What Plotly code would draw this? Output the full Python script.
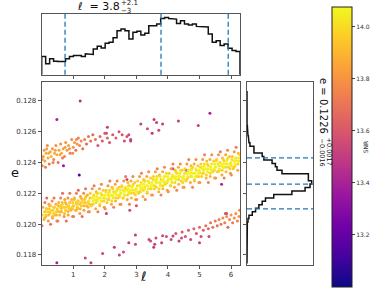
import numpy as np
import plotly.graph_objects as go

# ---------------- data ----------------
# main band, outer samples (columns)
band_l = [
 [0.01,0.07,0.02,0.09,0.04,0.10],[0.21,0.13,0.19,0.15,0.23,0.16],[0.28,0.34,0.26,0.32,0.25,0.33],[0.48,0.42,0.46,0.38,0.45,0.39],
 [0.51,0.57,0.50,0.59,0.54,0.60],[0.71,0.63,0.69,0.65,0.73,0.66],[0.78,0.84,0.76,0.82,0.75,0.83],[0.98,0.92,0.96,0.88,0.95,0.89],
 [1.01,1.07,1.00,1.09,1.04,1.10],[1.21,1.13,1.19,1.15,1.23,1.16],[1.28,1.34,1.26,1.32,1.25,1.33],[1.48,1.42,1.46,1.38,1.45,1.39],
 [1.51,1.57,1.50,1.59,1.54,1.60],[1.71,1.63,1.69,1.65,1.73,1.66],[1.78,1.84,1.76,1.82,1.75,1.83],[1.98,1.92,1.96,1.88,1.95,1.89],
 [2.01,2.07,2.00,2.09,2.04,2.10],[2.21,2.13,2.19,2.15,2.23,2.16],[2.28,2.34,2.26,2.32,2.25,2.33],[2.48,2.42,2.46,2.38,2.45,2.39],
 [2.51,2.57,2.50,2.59,2.54,2.60],[2.71,2.63,2.69,2.65,2.73,2.66],[2.78,2.84,2.76,2.82,2.75,2.83],[2.98,2.92,2.96,2.88,2.95,2.89],
 [3.01,3.07,3.00,3.09,3.04,3.10],[3.21,3.13,3.19,3.15,3.23,3.16],[3.28,3.34,3.26,3.32,3.25,3.33],[3.48,3.42,3.46,3.38,3.45,3.39],
 [3.51,3.57,3.50,3.59,3.54,3.60],[3.71,3.63,3.69,3.65,3.73,3.66],[3.78,3.84,3.76,3.82,3.75,3.83],[3.98,3.92,3.96,3.88,3.95,3.89],
 [4.01,4.07,4.00,4.09,4.04,4.10],[4.21,4.13,4.19,4.15,4.23,4.16],[4.28,4.34,4.26,4.32,4.25,4.33],[4.48,4.42,4.46,4.38,4.45,4.39],
 [4.51,4.57,4.50,4.59,4.54,4.60],[4.71,4.63,4.69,4.65,4.73,4.66],[4.78,4.84,4.76,4.82,4.75,4.83],[4.98,4.92,4.96,4.88,4.95,4.89],
 [5.01,5.07,5.00,5.09,5.04,5.10],[5.21,5.13,5.19,5.15,5.23,5.16],[5.28,5.34,5.26,5.32,5.25,5.33],[5.48,5.42,5.46,5.38,5.45,5.39],
 [5.51,5.57,5.50,5.59,5.54,5.60],[5.71,5.63,5.69,5.65,5.73,5.66],[5.78,5.84,5.76,5.82,5.75,5.83],[5.98,5.92,5.96,5.88,5.95,5.89],
 [6.01,6.07,6.00,6.09,6.04,6.10],[6.21,6.13,6.19,6.15,6.23,6.16],
]
band_e = [
 [0.1199,0.1203,0.1206,0.1208,0.1211,0.1214],[0.1202,0.1205,0.1208,0.1210,0.1213,0.1217],[0.1200,0.1204,0.1207,0.1209,0.1212,0.1215],[0.1202,0.1206,0.1208,0.1211,0.1213,0.1217],
 [0.1202,0.1206,0.1209,0.1211,0.1214,0.1217],[0.1205,0.1208,0.1211,0.1213,0.1216,0.1220],[0.1202,0.1206,0.1209,0.1211,0.1214,0.1217],[0.1205,0.1209,0.1211,0.1214,0.1216,0.1220],
 [0.1205,0.1209,0.1212,0.1214,0.1217,0.1220],[0.1207,0.1210,0.1213,0.1215,0.1218,0.1222],[0.1205,0.1209,0.1212,0.1214,0.1217,0.1220],[0.1208,0.1212,0.1214,0.1217,0.1219,0.1223],
 [0.1208,0.1212,0.1215,0.1217,0.1220,0.1223],[0.1210,0.1213,0.1216,0.1218,0.1221,0.1225],[0.1208,0.1212,0.1215,0.1217,0.1220,0.1223],[0.1211,0.1215,0.1217,0.1220,0.1222,0.1226],
 [0.1210,0.1214,0.1217,0.1219,0.1222,0.1225],[0.1213,0.1216,0.1219,0.1221,0.1224,0.1228],[0.1211,0.1215,0.1218,0.1220,0.1223,0.1226],[0.1213,0.1217,0.1219,0.1222,0.1224,0.1228],
 [0.1213,0.1217,0.1220,0.1222,0.1225,0.1228],[0.1216,0.1219,0.1222,0.1224,0.1227,0.1231],[0.1213,0.1217,0.1220,0.1222,0.1225,0.1228],[0.1216,0.1220,0.1222,0.1225,0.1227,0.1231],
 [0.1216,0.1220,0.1223,0.1225,0.1228,0.1231],[0.1218,0.1221,0.1224,0.1226,0.1229,0.1233],[0.1216,0.1220,0.1223,0.1225,0.1228,0.1231],[0.1219,0.1223,0.1225,0.1228,0.1230,0.1234],
 [0.1219,0.1223,0.1226,0.1228,0.1231,0.1234],[0.1221,0.1224,0.1227,0.1229,0.1232,0.1236],[0.1219,0.1223,0.1226,0.1228,0.1231,0.1234],[0.1222,0.1226,0.1228,0.1231,0.1233,0.1237],
 [0.1221,0.1225,0.1228,0.1230,0.1233,0.1236],[0.1224,0.1227,0.1230,0.1232,0.1235,0.1239],[0.1222,0.1226,0.1229,0.1231,0.1234,0.1237],[0.1224,0.1228,0.1230,0.1233,0.1235,0.1239],
 [0.1224,0.1228,0.1231,0.1233,0.1236,0.1239],[0.1227,0.1230,0.1233,0.1235,0.1238,0.1242],[0.1224,0.1228,0.1231,0.1233,0.1236,0.1239],[0.1227,0.1231,0.1233,0.1236,0.1238,0.1242],
 [0.1227,0.1231,0.1234,0.1236,0.1239,0.1242],[0.1230,0.1233,0.1236,0.1238,0.1241,0.1245],[0.1227,0.1231,0.1234,0.1236,0.1239,0.1242],[0.1230,0.1234,0.1236,0.1239,0.1241,0.1245],
 [0.1230,0.1234,0.1237,0.1239,0.1242,0.1245],[0.1232,0.1235,0.1238,0.1240,0.1243,0.1247],[0.1230,0.1234,0.1237,0.1239,0.1242,0.1245],[0.1233,0.1237,0.1239,0.1242,0.1244,0.1248],
 [0.1232,0.1236,0.1239,0.1241,0.1244,0.1247],[0.1235,0.1238,0.1241,0.1243,0.1246,0.1250],
]
band_snr = [
 [13.72,13.88,13.97,13.97,13.88,13.74],[13.80,13.90,13.98,13.96,13.84,13.66],[13.68,13.84,13.96,13.98,13.90,13.78],[13.74,13.90,13.97,13.96,13.88,13.70],
 [13.72,13.88,13.97,13.97,13.88,13.74],[13.80,13.90,13.98,13.96,13.84,13.66],[13.68,13.84,13.96,13.98,13.90,13.78],[13.74,13.90,13.97,13.96,13.88,13.70],
 [13.72,13.88,13.97,13.97,13.88,13.74],[13.80,13.90,13.98,13.96,13.84,13.66],[13.68,13.84,13.96,13.98,13.90,13.78],[13.74,13.90,13.97,13.96,13.88,13.70],
 [13.78,13.95,14.04,14.04,13.95,13.80],[13.86,13.97,14.05,14.03,13.90,13.72],[13.74,13.90,14.03,14.05,13.97,13.85],[13.80,13.97,14.04,14.03,13.95,13.76],
 [13.78,13.95,14.04,14.04,13.95,13.80],[13.86,13.97,14.05,14.03,13.90,13.72],[13.74,13.90,14.03,14.05,13.97,13.85],[13.80,13.97,14.04,14.03,13.95,13.76],
 [13.78,13.95,14.04,14.04,13.95,13.80],[13.86,13.97,14.05,14.03,13.90,13.72],[13.74,13.90,14.03,14.05,13.97,13.85],[13.80,13.97,14.04,14.03,13.95,13.76],
 [13.80,13.97,14.06,14.06,13.97,13.82],[13.88,13.99,14.07,14.05,13.92,13.74],[13.76,13.92,14.05,14.07,13.99,13.87],[13.82,13.99,14.06,14.05,13.97,13.78],
 [13.80,13.97,14.06,14.06,13.97,13.82],[13.88,13.99,14.07,14.05,13.92,13.74],[13.76,13.92,14.05,14.07,13.99,13.87],[13.82,13.99,14.06,14.05,13.97,13.78],
 [13.80,13.97,14.06,14.06,13.97,13.82],[13.88,13.99,14.07,14.05,13.92,13.74],[13.76,13.92,14.05,14.07,13.99,13.87],[13.82,13.99,14.06,14.05,13.97,13.78],
 [13.80,13.97,14.06,14.06,13.97,13.82],[13.88,13.99,14.07,14.05,13.92,13.74],[13.76,13.92,14.05,14.07,13.99,13.87],[13.82,13.99,14.06,14.05,13.97,13.78],
 [13.80,13.97,14.06,14.06,13.97,13.82],[13.88,13.99,14.07,14.05,13.92,13.74],[13.76,13.92,14.05,14.07,13.99,13.87],[13.82,13.99,14.06,14.05,13.97,13.78],
 [13.78,13.95,14.04,14.04,13.95,13.80],[13.86,13.97,14.05,14.03,13.90,13.72],[13.74,13.90,14.03,14.05,13.97,13.85],[13.80,13.97,14.04,14.03,13.95,13.76],
 [13.78,13.95,14.04,14.04,13.95,13.80],[13.86,13.97,14.05,14.03,13.90,13.72],
]

# main band, dense core samples (columns)
core_l = [
 [0.09,0.13,0.11,0.15],[0.22,0.26,0.24,0.28],[0.34,0.38,0.36,0.40],[0.47,0.51,0.49,0.53],[0.59,0.63,0.61,0.65],
 [0.72,0.76,0.74,0.78],[0.84,0.88,0.86,0.90],[0.97,1.01,0.99,1.03],[1.09,1.13,1.11,1.15],[1.22,1.26,1.24,1.28],
 [1.34,1.38,1.36,1.40],[1.47,1.51,1.49,1.53],[1.59,1.63,1.61,1.65],[1.72,1.76,1.74,1.78],[1.84,1.88,1.86,1.90],
 [1.97,2.01,1.99,2.03],[2.09,2.13,2.11,2.15],[2.22,2.26,2.24,2.28],[2.34,2.38,2.36,2.40],[2.47,2.51,2.49,2.53],
 [2.59,2.63,2.61,2.65],[2.72,2.76,2.74,2.78],[2.84,2.88,2.86,2.90],[2.97,3.01,2.99,3.03],[3.09,3.13,3.11,3.15],
 [3.22,3.26,3.24,3.28],[3.34,3.38,3.36,3.40],[3.47,3.51,3.49,3.53],[3.59,3.63,3.61,3.65],[3.72,3.76,3.74,3.78],
 [3.84,3.88,3.86,3.90],[3.97,4.01,3.99,4.03],[4.09,4.13,4.11,4.15],[4.22,4.26,4.24,4.28],[4.34,4.38,4.36,4.40],
 [4.47,4.51,4.49,4.53],[4.59,4.63,4.61,4.65],[4.72,4.76,4.74,4.78],[4.84,4.88,4.86,4.90],[4.97,5.01,4.99,5.03],
 [5.09,5.13,5.11,5.15],[5.22,5.26,5.24,5.28],[5.34,5.38,5.36,5.40],[5.47,5.51,5.49,5.53],[5.59,5.63,5.61,5.65],
 [5.72,5.76,5.74,5.78],[5.84,5.88,5.86,5.90],[5.97,6.01,5.99,6.03],[6.09,6.13,6.11,6.15],[6.22,6.26,6.24,6.27],
]
core_e = [
 [0.1204,0.1206,0.1208,0.1210],[0.1206,0.1208,0.1210,0.1212],[0.1205,0.1207,0.1209,0.1211],[0.1206,0.1208,0.1210,0.1212],[0.1208,0.1210,0.1212,0.1214],
 [0.1207,0.1209,0.1211,0.1213],[0.1208,0.1210,0.1212,0.1214],[0.1210,0.1212,0.1214,0.1216],[0.1209,0.1211,0.1213,0.1215],[0.1210,0.1212,0.1214,0.1216],
 [0.1212,0.1214,0.1216,0.1218],[0.1211,0.1213,0.1215,0.1217],[0.1213,0.1215,0.1217,0.1219],[0.1214,0.1216,0.1218,0.1220],[0.1213,0.1215,0.1217,0.1219],
 [0.1215,0.1217,0.1219,0.1221],[0.1216,0.1218,0.1220,0.1222],[0.1215,0.1217,0.1219,0.1221],[0.1217,0.1219,0.1221,0.1223],[0.1218,0.1220,0.1222,0.1224],
 [0.1217,0.1219,0.1221,0.1223],[0.1219,0.1221,0.1223,0.1225],[0.1220,0.1222,0.1224,0.1226],[0.1219,0.1221,0.1223,0.1225],[0.1221,0.1223,0.1225,0.1227],
 [0.1222,0.1224,0.1226,0.1228],[0.1221,0.1223,0.1225,0.1227],[0.1223,0.1225,0.1227,0.1229],[0.1225,0.1227,0.1229,0.1231],[0.1223,0.1225,0.1227,0.1229],
 [0.1225,0.1227,0.1229,0.1231],[0.1227,0.1229,0.1231,0.1233],[0.1225,0.1227,0.1229,0.1231],[0.1227,0.1229,0.1231,0.1233],[0.1229,0.1231,0.1233,0.1235],
 [0.1227,0.1229,0.1231,0.1233],[0.1229,0.1231,0.1233,0.1235],[0.1231,0.1233,0.1235,0.1237],[0.1229,0.1231,0.1233,0.1235],[0.1231,0.1233,0.1235,0.1237],
 [0.1233,0.1235,0.1237,0.1239],[0.1232,0.1234,0.1236,0.1238],[0.1233,0.1235,0.1237,0.1239],[0.1235,0.1237,0.1239,0.1241],[0.1234,0.1236,0.1238,0.1240],
 [0.1235,0.1237,0.1239,0.1241],[0.1237,0.1239,0.1241,0.1243],[0.1236,0.1238,0.1240,0.1242],[0.1237,0.1239,0.1241,0.1243],[0.1239,0.1241,0.1243,0.1245],
]
core_snr = [[13.90,13.95,13.96,13.91]] * 12 + [[13.98,14.04,14.05,13.99]] * 38

# upper (wrapped) band
upper_l = [0.02,0.05,0.08,0.10,0.14,0.18,0.20,0.24,0.27,0.30,0.34,0.38,0.41,0.45,0.48,0.52,0.55,0.60,0.63,0.68,
           0.72,0.76,0.80,0.85,0.90,0.95,1.00,1.04,1.08,1.12,1.16,1.20,1.25,1.30,1.36,1.42,1.48,1.55,1.62,1.70,
           1.78,1.85,1.92,2.00,2.08,2.15,2.25,2.35,2.45,2.55,2.62,2.70,2.82,
           0.03,0.12,0.16,0.22,0.36,0.43,0.58,0.66,0.74,0.88,0.98,1.10]
upper_e = [0.1238,0.1244,0.1248,0.1241,0.1246,0.1251,0.1243,0.1239,0.1247,0.1244,0.1249,0.1242,0.1246,0.1251,0.1245,0.1240,0.1248,0.1252,0.1246,0.1249,
           0.1244,0.1253,0.1248,0.1251,0.1246,0.1255,0.1250,0.1253,0.1248,0.1252,0.1256,0.1251,0.1254,0.1249,0.1255,0.1252,0.1257,0.1254,0.1258,0.1255,
           0.1251,0.1257,0.1254,0.1259,0.1256,0.1253,0.1258,0.1256,0.1260,0.1258,0.1254,0.1257,0.1255,
           0.1242,0.1237,0.1249,0.1246,0.1240,0.1248,0.1245,0.1243,0.1250,0.1249,0.1246,0.1255]
upper_snr = [13.75,13.82,13.80,13.85,13.88,13.78,13.85,13.70,13.86,13.88,13.80,13.75,13.86,13.80,13.88,13.70,13.84,13.78,13.86,13.84,
             13.75,13.80,13.82,13.84,13.72,13.78,13.80,13.82,13.70,13.80,13.72,13.78,13.75,13.68,13.72,13.66,13.70,13.68,13.65,13.70,
             13.60,13.66,13.62,13.60,13.64,13.58,13.60,13.62,13.58,13.60,13.55,13.58,13.50,
             13.85,13.72,13.82,13.86,13.74,13.84,13.86,13.72,13.84,13.80,13.76,13.76]

# lower (wrapped) band
lower_l = [3.45,3.55,3.62,3.80,3.95,4.10,4.25,4.35,4.45,4.55,4.65,4.72,4.82,4.90,5.00,5.05,5.12,5.20,5.28,5.35,
           5.42,5.50,5.56,5.62,5.68,5.74,5.80,5.86,5.90,5.95,6.00,6.05,6.10,6.15,6.20,6.25,6.27,5.82,5.30]
lower_e = [0.1189,0.1185,0.1191,0.1188,0.1192,0.1190,0.1194,0.1189,0.1195,0.1192,0.1196,0.1190,0.1197,0.1194,0.1198,0.1192,0.1196,0.1199,0.1197,0.1201,
           0.1198,0.1202,0.1199,0.1203,0.1200,0.1204,0.1201,0.1205,0.1198,0.1203,0.1206,0.1201,0.1204,0.1207,0.1202,0.1205,0.1209,0.1207,0.1192]
lower_snr = [13.55,13.50,13.55,13.52,13.58,13.55,13.60,13.50,13.60,13.58,13.62,13.55,13.64,13.60,13.66,13.55,13.64,13.68,13.65,13.70,
             13.68,13.72,13.66,13.74,13.70,13.76,13.72,13.78,13.65,13.76,13.80,13.72,13.78,13.80,13.74,13.80,13.78,13.60,13.55]

# isolated outliers
out_l = [1.22,0.48,2.08,2.05,2.76,2.82,3.14,3.35,3.56,3.64,3.50,3.71,3.83,4.33,4.96,5.33,0.69,1.19,0.48,1.38,
         1.56,1.93,2.30,2.46,2.59,2.76,2.97,2.97,3.40,3.58,3.83,4.16,4.43,5.00,5.70,5.86,2.79,2.05,3.00,4.16,4.58,2.70]
out_e = [0.1280,0.1268,0.1263,0.1259,0.1258,0.1254,0.1265,0.1262,0.1268,0.1266,0.1259,0.1261,0.1265,0.1267,0.1264,0.1272,0.1238,0.1232,0.1175,0.1178,
         0.1175,0.1181,0.1185,0.1180,0.1182,0.1188,0.1187,0.1193,0.1190,0.1187,0.11925,0.11923,0.1191,0.1188,0.1226,0.1207,0.1209,0.1207,0.1212,0.1236,0.1235,0.1229]
out_snr = [13.45,13.40,13.50,13.55,13.55,13.50,13.50,13.55,13.50,13.52,13.48,13.55,13.50,13.50,13.52,13.40,13.35,13.15,13.40,13.55,
           13.50,13.55,13.50,13.52,13.55,13.50,13.55,13.48,13.55,13.50,13.55,13.52,13.55,13.50,13.42,13.55,13.55,13.50,13.58,13.55,13.58,13.55]

# marginal histograms
l_range = [0.0, 2 * np.pi]
l_counts = [55,33,48,41,40,40,48,55,58,58,55,63,61,78,86,81,95,98,112,133,
            138,133,108,128,131,120,125,148,148,153,170,173,170,168,155,163,153,150,153,146,
            144,144,123,98,103,88,93,80,73,70]
e_range = [0.11745, 0.12865]
e_counts = [0,0,0,0,0,1,1,1,1,1,1,1,3,6,16,26,36,46,56,81,
            136,176,191,196,186,186,106,91,86,76,51,46,21,21,9,6,4,3,2,1,
            0,0,0,0,0,0,0,0,0,0]

l_quantiles = [0.74, 3.78, 5.91]
e_quantiles = [0.1210, 0.1226, 0.1243]

e_ticks = [0.118, 0.120, 0.122, 0.124, 0.126, 0.128]
l_ticks = [1, 2, 3, 4, 5, 6]
snr_ticks = [13.2, 13.4, 13.6, 13.8, 14.0]

# ---------------- build ----------------
W, H = 373, 295
def px_x(p): return p / W
def px_y(p): return 1 - p / H

def flat(rows): return [v for row in rows for v in row]

xs = np.array(flat(band_l) + flat(core_l) + upper_l + lower_l + out_l)
ys = np.array(flat(band_e) + flat(core_e) + upper_e + lower_e + out_e)
cs = np.array(flat(band_snr) + flat(core_snr) + upper_snr + lower_snr + out_snr)
order = np.argsort(cs, kind="stable")
xs, ys, cs = xs[order], ys[order], cs[order]

def steps(edges, counts):
    sx, sy = [edges[0]], [0]
    for i, c in enumerate(counts):
        sx += [edges[i], edges[i + 1]]
        sy += [c, c]
    sx.append(edges[-1]); sy.append(0)
    return sx, sy

l_edges = np.linspace(l_range[0], l_range[1], len(l_counts) + 1)
e_edges = np.linspace(e_range[0], e_range[1], len(e_counts) + 1)
tlx, tly = steps(l_edges, l_counts)
rex, rey = steps(e_edges, e_counts)

FONT = "DejaVu Sans"
fig = go.Figure()
fig.add_trace(go.Scatter(
    x=xs, y=ys, mode="markers", xaxis="x", yaxis="y",
    marker=dict(size=3, color=cs, colorscale="Plasma", cmin=13.0, cmax=14.075,
                line=dict(width=0),
                colorbar=dict(thickness=20, len=280 / H, lenmode="fraction",
                              x=px_x(332), xanchor="left", y=px_y(147), yanchor="middle",
                              xpad=0, ypad=0,
                              outlinewidth=1, outlinecolor="#222",
                              tickvals=snr_ticks, ticktext=[f"{t:.1f}" for t in snr_ticks],
                              ticks="outside", ticklen=3, tickcolor="#444",
                              tickfont=dict(size=6, color="#333", family=FONT),
                              title=dict(text="SNR", side="right", font=dict(size=6, color="#333", family=FONT)))),
    showlegend=False, hoverinfo="skip"))
fig.add_trace(go.Scatter(x=tlx, y=tly, mode="lines", xaxis="x2", yaxis="y2",
                         line=dict(color="#111", width=1.5), showlegend=False, hoverinfo="skip"))
fig.add_trace(go.Scatter(x=rey, y=rex, mode="lines", xaxis="x3", yaxis="y3",
                         line=dict(color="#111", width=1.5), showlegend=False, hoverinfo="skip"))

shapes = []
for q in l_quantiles:
    shapes.append(dict(type="line", xref="x2", yref="y2 domain", x0=q, x1=q, y0=0, y1=1,
                       line=dict(color="#1f77b4", width=1.3, dash="5px,3px")))
for q in e_quantiles:
    shapes.append(dict(type="line", xref="x3 domain", yref="y3", x0=0, x1=1, y0=q, y1=q,
                       line=dict(color="#1f77b4", width=1.3, dash="5px,3px")))

main_x = [px_x(41.7), px_x(240)]
main_y = [px_y(265), px_y(82)]
top_y = [px_y(74.7), px_y(13.5)]
right_x = [px_x(247), px_x(313)]

axis_common = dict(showline=True, mirror=True, linecolor="#555", linewidth=1,
                   showgrid=False, zeroline=False,
                   tickfont=dict(size=7, color="#333", family=FONT), tickcolor="#555")

fig.update_layout(
    width=W, height=H, margin=dict(l=0, r=0, t=0, b=0, autoexpand=False),
    paper_bgcolor="white", plot_bgcolor="white",
    xaxis=dict(domain=main_x, anchor="y", range=l_range, tickvals=l_ticks,
               ticks="outside", ticklen=3, **axis_common),
    yaxis=dict(domain=main_y, anchor="x", range=[0.11735, 0.12923], tickvals=e_ticks,
               ticktext=[f"{t:.3f}" for t in e_ticks], ticks="outside", ticklen=3, **axis_common),
    xaxis2=dict(domain=main_x, anchor="y2", range=l_range, tickvals=l_ticks, showticklabels=False,
                ticks="outside", ticklen=3, **axis_common),
    yaxis2=dict(domain=top_y, anchor="x2", range=[0, 185], showticklabels=False, ticks="", **axis_common),
    xaxis3=dict(domain=right_x, anchor="y3", range=[0, 200], showticklabels=False, ticks="", **axis_common),
    yaxis3=dict(domain=main_y, anchor="x3", range=[0.11735, 0.12923], tickvals=e_ticks,
                showticklabels=False, ticks="outside", ticklen=3, **axis_common),
    shapes=shapes,
    font=dict(family=FONT),
)

ann = []
ann.append(dict(text="e", x=px_x(9), y=px_y(172), xref="paper", yref="paper", showarrow=False,
                font=dict(size=13, color="#111", family=FONT)))
ann.append(dict(text="ℓ", x=px_x(143), y=px_y(286), xref="paper", yref="paper", showarrow=False,
                font=dict(size=13, color="#111", family=FONT)))
ann.append(dict(text="ℓ  = 3.8", x=px_x(75), y=px_y(6), xref="paper", yref="paper", showarrow=False,
                xanchor="left", yanchor="middle", font=dict(size=11, color="#111", family=FONT)))
ann.append(dict(text="+2.1", x=px_x(119), y=px_y(3), xref="paper", yref="paper", showarrow=False,
                xanchor="left", yanchor="middle", font=dict(size=7, color="#111", family=FONT)))
ann.append(dict(text="−3", x=px_x(119), y=px_y(11), xref="paper", yref="paper", showarrow=False,
                xanchor="left", yanchor="middle", font=dict(size=7, color="#111", family=FONT)))
ann.append(dict(text="e = 0.1226", x=px_x(324), y=px_y(106), xref="paper", yref="paper", showarrow=False,
                textangle=90, xanchor="center", yanchor="middle", font=dict(size=10, color="#111", family=FONT)))
ann.append(dict(text="+0.0017", x=px_x(328.5), y=px_y(151), xref="paper", yref="paper", showarrow=False,
                textangle=90, xanchor="center", yanchor="middle", font=dict(size=6.5, color="#111", family=FONT)))
ann.append(dict(text="−0.0016", x=px_x(321.5), y=px_y(152), xref="paper", yref="paper", showarrow=False,
                textangle=90, xanchor="center", yanchor="middle", font=dict(size=6.5, color="#111", family=FONT)))
fig.update_layout(annotations=ann)

fig.write_html("out.html", config={"displayModeBar": False, "staticPlot": True},
               post_script="document.body.style.margin='0';document.body.style.padding='0';")
